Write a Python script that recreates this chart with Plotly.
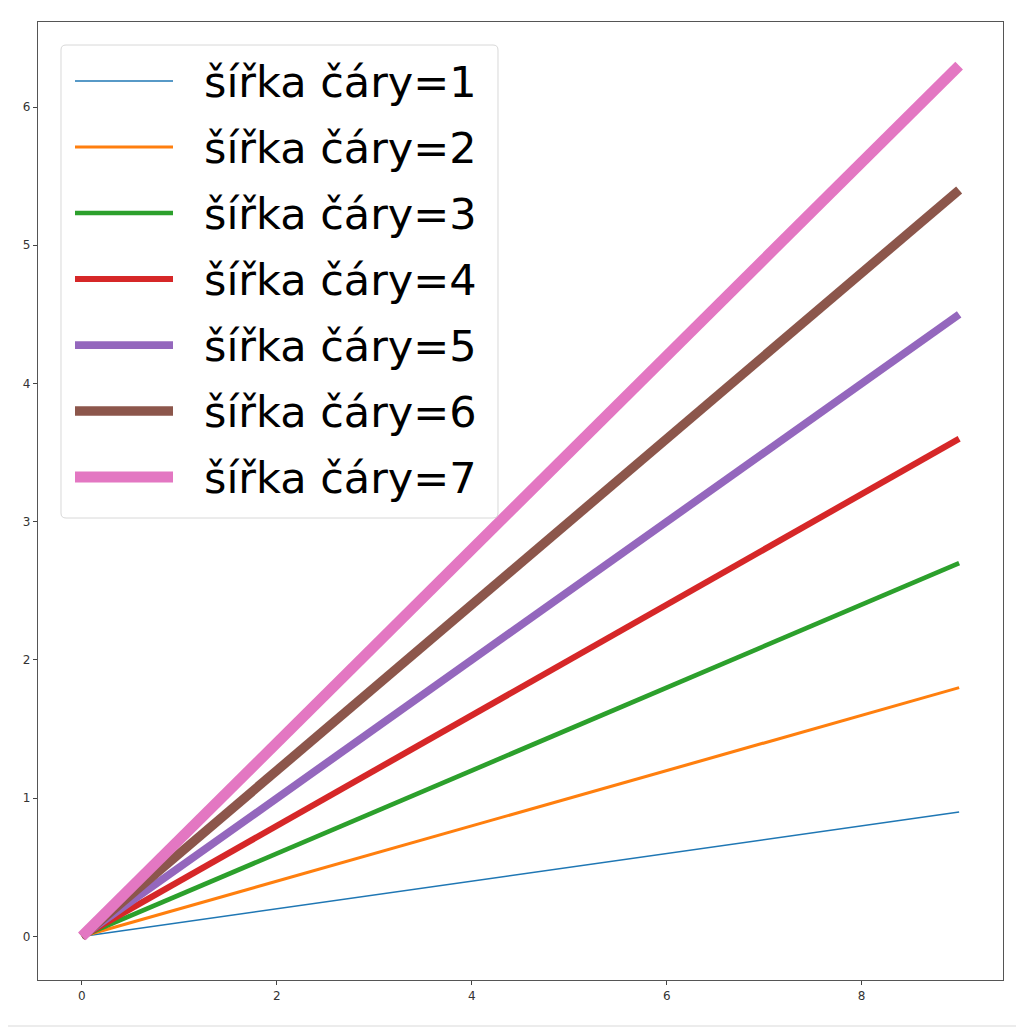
import plotly.graph_objects as go

# ---- data ----
x_vals = [0, 1, 2, 3, 4, 5, 6, 7, 8, 9]
y_w1 = [0.0, 0.1, 0.2, 0.3, 0.4, 0.5, 0.6, 0.7, 0.8, 0.9]
y_w2 = [0.0, 0.2, 0.4, 0.6, 0.8, 1.0, 1.2, 1.4, 1.6, 1.8]
y_w3 = [0.0, 0.3, 0.6, 0.9, 1.2, 1.5, 1.8, 2.1, 2.4, 2.7]
y_w4 = [0.0, 0.4, 0.8, 1.2, 1.6, 2.0, 2.4, 2.8, 3.2, 3.6]
y_w5 = [0.0, 0.5, 1.0, 1.5, 2.0, 2.5, 3.0, 3.5, 4.0, 4.5]
y_w6 = [0.0, 0.6, 1.2, 1.8, 2.4, 3.0, 3.6, 4.2, 4.8, 5.4]
y_w7 = [0.0, 0.7, 1.4, 2.1, 2.8, 3.5, 4.2, 4.9, 5.6, 6.3]
series_values = [y_w1, y_w2, y_w3, y_w4, y_w5, y_w6, y_w7]
series_names = ["šířka čáry=1", "šířka čáry=2", "šířka čáry=3", "šířka čáry=4",
                "šířka čáry=5", "šířka čáry=6", "šířka čáry=7"]
line_widths_pt = [1, 2, 3, 4, 5, 6, 7]
x_ticks = [0, 2, 4, 6, 8]
y_ticks = [0, 1, 2, 3, 4, 5, 6]

# ---- styles ----
colors = ["#1f77b4", "#ff7f0e", "#2ca02c", "#d62728", "#9467bd", "#8c564b", "#e377c2"]
PX_PER_PT = 1.55

OFF = 8  # default body margin of the html page
W, H = 1024 - OFF, 1027 - OFF
# target pixel positions in the window
AX_L, AX_R, AX_T, AX_B = 38, 1003, 22, 980
L = AX_L - OFF
T = AX_T - OFF
R = 1024 - AX_R
B = 1027 - AX_B
plot_w = AX_R - AX_L
plot_h = AX_B - AX_T


def px_x(px):
    return (px - AX_L) / plot_w


def px_y(py):
    return (AX_B - py) / plot_h


def rounded_box_path(x0, y0, x1, y1, r):
    # pixel coords (y downward) -> paper path with rounded corners
    def p(x, y):
        return f"{px_x(x):.5f},{px_y(y):.5f}"
    return (f"M {p(x0 + r, y0)} L {p(x1 - r, y0)} Q {p(x1, y0)} {p(x1, y0 + r)} "
            f"L {p(x1, y1 - r)} Q {p(x1, y1)} {p(x1 - r, y1)} "
            f"L {p(x0 + r, y1)} Q {p(x0, y1)} {p(x0, y1 - r)} "
            f"L {p(x0, y0 + r)} Q {p(x0, y0)} {p(x0 + r, y0)} Z")


fig = go.Figure()
for ys, name, lw, col in zip(series_values, series_names, line_widths_pt, colors):
    fig.add_trace(go.Scatter(
        x=x_vals, y=ys, mode="lines", name=name,
        line=dict(color=col, width=lw * PX_PER_PT),
        showlegend=False,
    ))

# ---- custom legend (matplotlib-like) ----
shapes = [dict(
    type="path", xref="paper", yref="paper",
    path=rounded_box_path(61, 45, 498, 518, 5),
    line=dict(color="#d8d8d8", width=1),
    fillcolor="rgba(255,255,255,0.85)", layer="above",
)]
annotations = []
row_top = 81
row_step = 66
for i, (name, lw, col) in enumerate(zip(series_names, line_widths_pt, colors)):
    yy = row_top + i * row_step
    shapes.append(dict(
        type="line", xref="paper", yref="paper",
        x0=px_x(75), x1=px_x(173), y0=px_y(yy), y1=px_y(yy),
        line=dict(color=col, width=lw * PX_PER_PT), layer="above",
    ))
    annotations.append(dict(
        text=name, xref="paper", yref="paper",
        x=px_x(202), y=px_y(yy + 1), xanchor="left", yanchor="middle",
        showarrow=False, font=dict(family="DejaVu Sans", size=43, color="#000000"),
    ))

# thin light-gray strip at the bottom edge of the picture
shapes.append(dict(
    type="rect", xref="paper", yref="paper", layer="below",
    x0=px_x(0), x1=px_x(1024), y0=px_y(1027), y1=px_y(1025),
    line=dict(width=0), fillcolor="#ececec",
))

axis_common = dict(
    showgrid=False, zeroline=False, showline=True, mirror=True,
    linecolor="#555555", linewidth=1.3, ticks="outside", ticklen=4,
    tickwidth=1, tickcolor="#444444",
    tickfont=dict(family="DejaVu Sans", size=12, color="#333333"),
)

fig.update_layout(
    width=W, height=H,
    margin=dict(l=L, r=R, t=T, b=B),
    paper_bgcolor="white", plot_bgcolor="white",
    xaxis=dict(range=[-0.45, 9.45], tickvals=x_ticks, **axis_common),
    yaxis=dict(range=[-0.315, 6.615], tickvals=y_ticks, **axis_common),
    shapes=shapes, annotations=annotations,
    showlegend=False,
)

fig.write_html("out.html")
